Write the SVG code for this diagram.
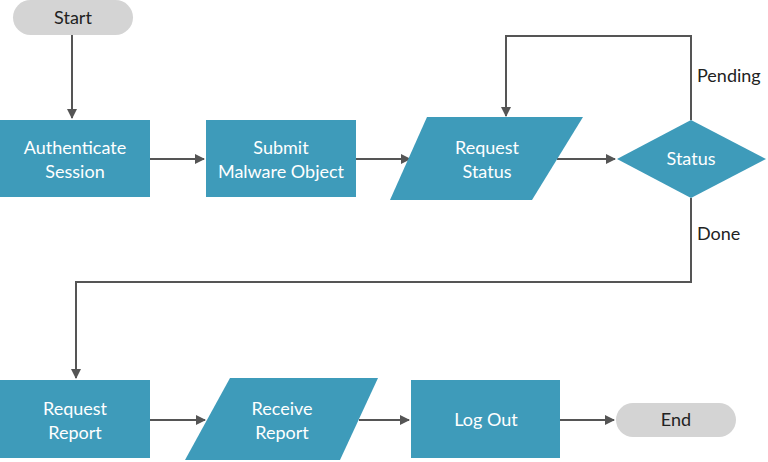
<svg xmlns="http://www.w3.org/2000/svg" width="768" height="462" viewBox="0 0 768 462">
<style>
.n{fill:#3e9bba}
.p{fill:#d4d4d4}
.t{font-family:Lato,"Liberation Sans",sans-serif;font-size:18px;fill:#fff;text-anchor:middle}
.d{fill:#222}
.c{fill:none;stroke:#555;stroke-width:2}
.l{font-family:Lato,"Liberation Sans",sans-serif;font-size:18px;fill:#222}
</style>
<defs><marker id="a" markerWidth="10" markerHeight="10" refX="9" refY="5" orient="auto" markerUnits="userSpaceOnUse"><path d="M0,0 L10,5 L0,10 z" fill="#555"/></marker></defs>
<g id="connectors">
<path class="c" d="M72,35 V118" marker-end="url(#a)"/>
<path class="c" d="M150,159 H204" marker-end="url(#a)"/>
<path class="c" d="M356,159 H410" marker-end="url(#a)"/>
<path class="c" d="M557,159 H615" marker-end="url(#a)"/>
<path class="c" d="M691,120 V36 H506 V116" marker-end="url(#a)"/>
<path class="c" d="M691,198 V282 H76 V378" marker-end="url(#a)"/>
<path class="c" d="M150,420 H205" marker-end="url(#a)"/>
<path class="c" d="M359,420 H409" marker-end="url(#a)"/>
<path class="c" d="M560,420 H614" marker-end="url(#a)"/>
<text class="l" x="697" y="82">Pending</text>
<text class="l" x="697" y="240">Done</text>
</g>
<g id="start"><rect class="p" x="13" y="0" width="120" height="35" rx="17.5"/><text class="t d" x="73" y="24">Start</text></g>
<g id="auth"><rect class="n" x="0" y="120" width="150" height="77"/><text class="t" x="75" y="154">Authenticate</text><text class="t" x="75" y="178">Session</text></g>
<g id="submit"><rect class="n" x="206" y="120" width="150" height="77"/><text class="t" x="281" y="154">Submit</text><text class="t" x="281" y="178">Malware Object</text></g>
<g id="reqstatus"><polygon class="n" points="427,117 583,117 532,200 390,200"/><text class="t" x="487" y="154">Request</text><text class="t" x="487" y="178">Status</text></g>
<g id="status"><polygon class="n" points="617,159 691,120 766,159 691,198"/><text class="t" x="691" y="165">Status</text></g>
<g id="reqreport"><rect class="n" x="0" y="380" width="150" height="78"/><text class="t" x="75" y="415">Request</text><text class="t" x="75" y="439">Report</text></g>
<g id="receive"><polygon class="n" points="230,378 378,378 340,460 185,460"/><text class="t" x="282" y="415">Receive</text><text class="t" x="282" y="439">Report</text></g>
<g id="logout"><rect class="n" x="411" y="380" width="149" height="78"/><text class="t" x="486" y="426">Log Out</text></g>
<g id="end"><rect class="p" x="616" y="403" width="120" height="34" rx="17"/><text class="t d" x="676" y="426">End</text></g>
</svg>
